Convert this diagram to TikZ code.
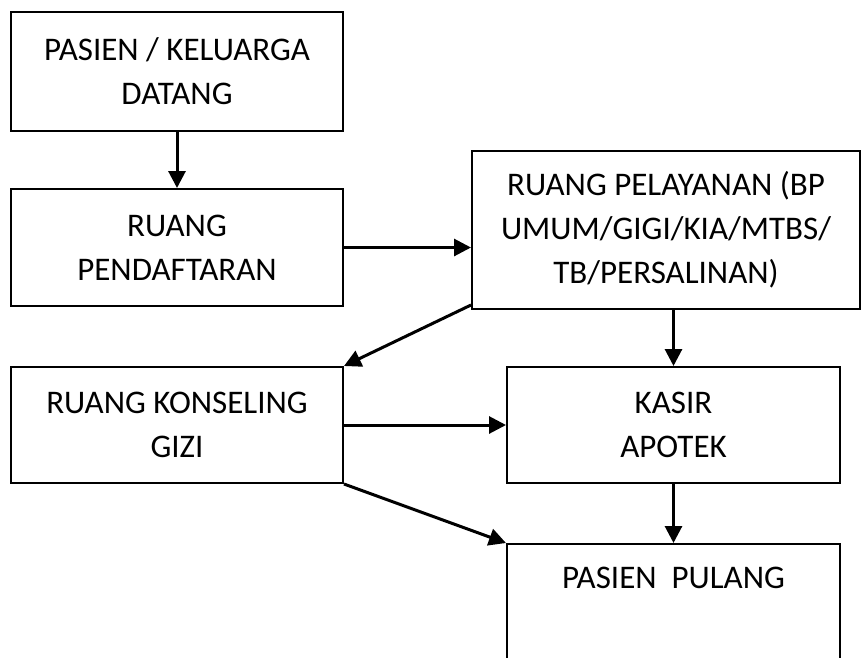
\documentclass[tikz,border=0pt]{standalone}
\usepackage{fontspec}
\setmainfont{Carlito}
\usetikzlibrary{arrows.meta, calc}

\tikzset{
  kotak/.style = {draw, line width=2pt, align=center, inner sep=0pt,
    font=\fontsize{33}{44}\selectfont},
  panah/.style = {line width=3pt, -{Triangle[length=17pt, width=17pt]}}
}

\begin{document}
\begin{tikzpicture}[x=1pt, y=-1pt]
		\useasboundingbox (0,0) rectangle (865,657);

		% kolom kiri
		\node[kotak, minimum width=332pt, minimum height=119pt] (datang) at (177,71.5) {PASIEN / KELUARGA\\DATANG};
		\node[kotak, minimum width=332pt, minimum height=117pt] (daftar) at (177,247.5) {RUANG\\PENDAFTARAN};
		\node[kotak, minimum width=332pt, minimum height=116pt] (konseling) at (177,425) {RUANG KONSELING\\GIZI};

		% kolom kanan
		\node[kotak, minimum width=388pt, minimum height=158pt] (pelayanan) at (666,230) {RUANG PELAYANAN (BP\\UMUM/GIGI/KIA/MTBS/\\TB/PERSALINAN)};
		\node[kotak, minimum width=333pt, minimum height=116pt] (kasir) at (673.5,425) {KASIR\\APOTEK};
		\node[kotak, minimum width=333pt, minimum height=140pt, anchor=north,
			label={[font=\fontsize{33}{44}\selectfont, anchor=north, yshift=-21pt]north:PASIEN\ \ PULANG}] (pulang) at (673.5,543) {};

		% panah
		\draw[panah] (datang) -- (daftar);
		\draw[panah] (daftar.east) -- (daftar.east -| pelayanan.west);
		\draw[panah] ($ (pelayanan.south west) + (0,-5) $) -- (konseling.north east);
		\draw[panah] (kasir.north |- pelayanan.south) -- (kasir.north);
		\draw[panah] (konseling.east) -- (konseling.east -| kasir.west);
		\draw[panah] (konseling.south east) -- (pulang.north west);
		\draw[panah] (kasir) -- (pulang);
	\end{tikzpicture}
\end{document}
